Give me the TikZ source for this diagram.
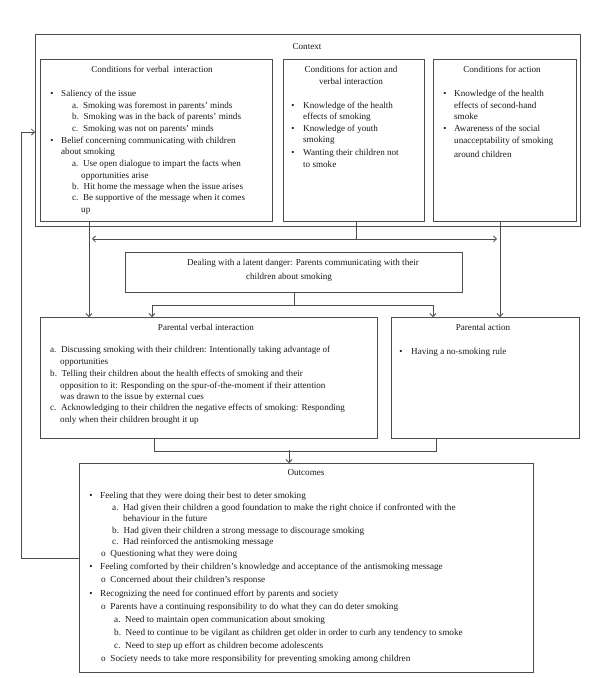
\documentclass[tikz,border=0pt]{standalone}
\usepackage{fontspec}
\setmainfont{Liberation Serif}
\usetikzlibrary{arrows.meta,calc}
\newcommand\figfont{\fontsize{9.1}{11}\selectfont}
\newcommand\outfont{\fontsize{9.2}{11}\selectfont}
\begin{document}
\begin{tikzpicture}[x=1pt,y=-1pt,
  box/.style={draw=black!70, line width=0.9pt, inner sep=0pt, anchor=north west},
  conn/.style={draw=black!70, line width=0.8pt},
  arr/.style={conn, -{Straight Barb[length=3pt,width=6pt]}},
  txt/.style={anchor=mid west, inner sep=0pt, font=\figfont, text=black!90},
  ctr/.style={anchor=mid, inner sep=0pt, font=\figfont, text=black!90},
  bul/.style={anchor=mid, inner sep=0pt, font=\figfont, text=black!90},
  otxt/.style={txt, font=\outfont},
  obul/.style={bul, font=\outfont}]
\useasboundingbox (0,0) rectangle (600,678);

% boxes
\node[box, minimum width=545pt, minimum height=192pt] (ctx) at (35,34) {};
\node[box, minimum width=232pt, minimum height=162pt] (b1) at (40,59) {};
\node[box, minimum width=141pt, minimum height=162pt] (b2) at (283,59) {};
\node[box, minimum width=143pt, minimum height=162pt] (b3) at (433,59) {};
\node[box, minimum width=337pt, minimum height=40pt] (dl) at (125,252) {};
\node[box, minimum width=337pt, minimum height=121pt] (pv) at (40,317) {};
\node[box, minimum width=188pt, minimum height=121pt] (pa) at (391,317) {};
\node[box, minimum width=454pt, minimum height=209pt] (out) at (79,463) {};

% connectors
\coordinate (d1) at ($(b1.south west)+(49,0)$);
\coordinate (d3) at ($(b3.south west)+(67,0)$);
\draw[conn] ($(b2.south west)+(73,0)$) -- ++(0,17) coordinate (split);
\draw[arr] (d1) -- (d1 |- pv.north);
\draw[arr] (d3) -- (d3 |- pa.north);
\draw[arr] (split) -- ($(split -| d1)+(3,0)$);
\draw[arr] (split) -- ($(split -| d3)+(-3,0)$);
\draw[conn] (dl.south) -- ++(0,12) coordinate (m2);
\draw[arr] (m2) -| ($(pv.north west)+(112,0)$);
\draw[arr] (m2) -| ($(pa.north west)+(42,0)$);
\draw[conn] ($(pv.south west)+(114,0)$) -- ++(0,12) -| ($(pa.south west)+(45,0)$);
\draw[arr] ($(out.north west)+(210,-13)$) -- ($(out.north west)+(210,0)$);
\coordinate (fb) at (21,132);
\draw[arr] ($(out.north west)+(0,95)$) -| (fb) -- (fb -| ctx.west);

% Context
\node[ctr] (tctx) at (307,47) {Context};

% Box 1
\node[ctr] (t1h) at (152,70) {Conditions for verbal\ \ interaction};
\node[bul] (t1b1) at (52,94) {\textbullet};
\node[txt] (t1a) at (61,94) {Saliency of the issue};
\node[txt] (t1b) at (72,106) {a.\ \ Smoking was foremost in parents’ minds};
\node[txt] (t1c) at (72,117) {b.\ \ Smoking was in the back of parents’ minds};
\node[txt] (t1d) at (72,129) {c.\ \ Smoking was not on parents’ minds};
\node[bul] (t1b2) at (52,141) {\textbullet};
\node[txt] (t1e) at (61,141) {Belief concerning communicating with children};
\node[txt] (t1f) at (61,152) {about smoking};
\node[txt] (t1g) at (72,164) {a.\ \ Use open dialogue to impart the facts when};
\node[txt] (t1h2) at (81,176) {opportunities arise};
\node[txt] (t1i) at (72,187) {b.\ \ Hit home the message when the issue arises};
\node[txt] (t1j) at (72,198) {c.\ \ Be supportive of the message when it comes};
\node[txt] (t1k) at (81,210) {up};

% Box 2
\node[ctr] (t2h1) at (351,70) {Conditions for action and};
\node[ctr] (t2h2) at (351,82) {verbal interaction};
\node[bul] (t2b1) at (293,106) {\textbullet};
\node[txt] (t2a) at (303,106) {Knowledge of the health};
\node[txt] (t2b) at (303,117) {effects of smoking};
\node[bul] (t2b2) at (293,129) {\textbullet};
\node[txt] (t2c) at (303,129) {Knowledge of youth};
\node[txt] (t2d) at (303,140) {smoking};
\node[bul] (t2b3) at (293,153) {\textbullet};
\node[txt] (t2e) at (303,153) {Wanting their children not};
\node[txt] (t2f) at (303,165) {to smoke};

% Box 3
\node[ctr] (t3h) at (502,70) {Conditions for action};
\node[bul] (t3b1) at (445,94) {\textbullet};
\node[txt] (t3a) at (454,94) {Knowledge of the health};
\node[txt] (t3b) at (454,106) {effects of second-hand};
\node[txt] (t3c) at (454,117) {smoke};
\node[bul] (t3b2) at (445,129) {\textbullet};
\node[txt] (t3d) at (454,129) {Awareness of the social};
\node[txt] (t3e) at (454,141) {unacceptability of smoking};
\node[txt] (t3f) at (454,155) {around children};

% Dealing box
\node[ctr] (tdl1) at (303,263) {Dealing with a latent danger: Parents communicating with their};
\node[ctr] (tdl2) at (289,277) {children about smoking};

% Parental verbal interaction
\node[ctr] (tpvh) at (206,328) {Parental verbal interaction};
\node[txt] (tpv1) at (50,350) {a.\ \ Discussing smoking with their children: Intentionally taking advantage of};
\node[txt] (tpv2) at (60,362) {opportunities};
\node[txt] (tpv3) at (50,374) {b.\ \ Telling their children about the health effects of smoking and their};
\node[txt] (tpv4) at (60,386) {opposition to it: Responding on the spur-of-the-moment if their attention};
\node[txt] (tpv5) at (60,397) {was drawn to the issue by external cues};
\node[txt] (tpv6) at (50,408) {c.\ \ Acknowledging to their children the negative effects of smoking: Responding};
\node[txt] (tpv7) at (60,420) {only when their children brought it up};

% Parental action
\node[ctr] (tpah) at (483,328) {Parental action};
\node[bul] (tpab) at (401,352) {\textbullet};
\node[txt] (tpa1) at (411,352) {Having a no-smoking rule};

% Outcomes
\node[ctr] (touth) at (306,473) {Outcomes};
\node[obul] (to1b) at (91,496) {\textbullet};
\node[otxt] (to1) at (100,496) {Feeling that they were doing their best to deter smoking};
\node[otxt] (to2) at (112,508) {a.\ \ Had given their children a good foundation to make the right choice if confronted with the};
\node[otxt] (to3) at (123,519) {behaviour in the future};
\node[otxt] (to4) at (112,531) {b.\ \ Had given their children a strong message to discourage smoking};
\node[otxt] (to5) at (112,542) {c.\ \ Had reinforced the antismoking message};
\node[otxt] (to6) at (101,554) {o\ \ Questioning what they were doing};
\node[obul] (to7b) at (91,567) {\textbullet};
\node[otxt] (to7) at (100,567) {Feeling comforted by their children’s knowledge and acceptance of the antismoking message};
\node[otxt] (to8) at (101,580) {o\ \ Concerned about their children’s response};
\node[obul] (to9b) at (91,594) {\textbullet};
\node[otxt] (to9) at (100,594) {Recognizing the need for continued effort by parents and society};
\node[otxt] (to10) at (101,607) {o\ \ Parents have a continuing responsibility to do what they can do deter smoking};
\node[otxt] (to11) at (114,620) {a.\ \ Need to maintain open communication about smoking};
\node[otxt] (to12) at (114,633) {b.\ \ Need to continue to be vigilant as children get older in order to curb any tendency to smoke};
\node[otxt] (to13) at (114,646) {c.\ \ Need to step up effort as children become adolescents};
\node[otxt] (to14) at (101,659) {o\ \ Society needs to take more responsibility for preventing smoking among children};
\end{tikzpicture}
\end{document}
